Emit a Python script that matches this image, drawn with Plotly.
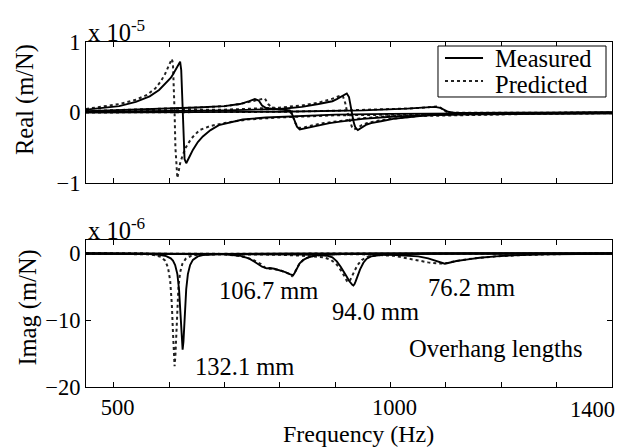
import plotly.graph_objects as go

# Frequency response of the tool tip for four overhang lengths.
# Real parts in units of 1e-5 m/N, imaginary parts in units of 1e-6 m/N.

overhangs = ["132.1 mm", "106.7 mm", "94.0 mm", "76.2 mm"]

# ---- 132.1 mm ----
f_m1 = [450, 480, 510, 540, 565, 582, 595, 603, 607, 611, 615, 618, 620, 622, 623.5, 624.5, 626, 628, 631, 634,
        638, 643, 652, 661, 675, 690, 710, 733, 775, 825, 900, 1000, 1150, 1400]
re_m1 = [0.04, 0.06, 0.09, 0.15, 0.23, 0.32, 0.42, 0.49, 0.54, 0.60, 0.65, 0.70, 0.72, 0.60, 0.30, 0.0, -0.40, -0.66,
         -0.72, -0.68, -0.61, -0.53, -0.42, -0.34, -0.25, -0.18, -0.14, -0.10, -0.07, -0.05, -0.03, -0.02, -0.01, 0.0]
im_m1 = [-0.02, -0.03, -0.03, -0.05, -0.09, -0.2, -0.4, -0.74, -1.09, -1.74, -3.1, -5.35, -7.95, -11.5, -13.85, -14.4,
         -13.2, -9.66, -5.35, -3.1, -1.74, -0.98, -0.46, -0.27, -0.17, -0.11, -0.08, -0.06, -0.04, -0.03, -0.02,
         -0.01, -0.01, 0.0]

f_p1 = [450, 480, 510, 540, 560, 575, 585, 593, 598, 602, 605, 607, 608.5, 610, 611.5, 613, 615, 617, 620, 624,
        630, 640, 655, 675, 700, 740, 800, 900, 1000, 1150, 1400]
re_p1 = [0.05, 0.08, 0.12, 0.18, 0.25, 0.34, 0.44, 0.55, 0.63, 0.71, 0.76, 0.70, 0.45, 0.0, -0.50, -0.80, -0.93,
         -0.85, -0.72, -0.62, -0.50, -0.37, -0.25, -0.19, -0.15, -0.10, -0.07, -0.04, -0.03, -0.02, -0.01]
im_p1 = [-0.02, -0.03, -0.05, -0.08, -0.14, -0.27, -0.53, -1.1, -2.09, -4.06, -7.58, -11.7, -15.2, -16.9, -15.2,
         -11.7, -7.58, -4.94, -2.85, -1.58, -0.82, -0.37, -0.17, -0.1, -0.07, -0.05, -0.03, -0.02, -0.01, -0.01, 0.0]

# ---- 106.7 mm ----
f_m2 = [450, 550, 650, 700, 728, 745, 755, 762, 768, 776, 782, 790, 800, 810, 818, 821, 824, 827, 831, 836,
        842, 850, 866, 890, 909, 950, 1000, 1100, 1250, 1400]
re_m2 = [0.02, 0.04, 0.07, 0.09, 0.12, 0.16, 0.19, 0.17, 0.10, 0.06, 0.055, 0.05, 0.04, 0.035, 0.03, 0.0, -0.06,
         -0.13, -0.2, -0.24, -0.23, -0.21, -0.18, -0.15, -0.13, -0.09, -0.06, -0.03, -0.02, -0.01]
im_m2 = [-0.02, -0.04, -0.08, -0.14, -0.35, -0.8, -1.3, -1.7, -2.0, -2.25, -2.2, -2.3, -2.5, -2.8, -3.1, -3.2,
         -3.3, -2.9, -2.2, -1.5, -1.0, -0.65, -0.3, -0.15, -0.1, -0.06, -0.03, -0.02, -0.01, 0.0]

f_p2 = [450, 550, 650, 700, 728, 750, 766, 773, 779, 786, 800, 815, 822, 828, 835, 845, 860, 880, 909, 950,
        1000, 1100, 1250, 1400]
re_p2 = [0.02, 0.04, 0.07, 0.09, 0.12, 0.16, 0.19, 0.20, 0.12, 0.07, 0.05, 0.03, -0.02, -0.15, -0.22, -0.21,
         -0.18, -0.15, -0.12, -0.08, -0.05, -0.03, -0.02, -0.01]
im_p2 = [-0.02, -0.04, -0.08, -0.15, -0.4, -0.9, -1.6, -2.1, -2.3, -2.3, -2.5, -3.0, -3.4, -2.7, -1.6, -0.8,
         -0.4, -0.2, -0.1, -0.06, -0.03, -0.02, -0.01, 0.0]

# ---- 94.0 mm ----
f_m3 = [450, 700, 800, 840, 870, 885, 895, 903, 910, 915, 918, 921, 925, 928, 931, 933, 935, 937, 941, 945,
        951, 957, 965, 975, 985, 1005, 1040, 1066, 1150, 1250, 1400]
re_m3 = [0.01, 0.03, 0.05, 0.08, 0.12, 0.14, 0.16, 0.19, 0.22, 0.24, 0.255, 0.27, 0.22, 0.08, -0.05, -0.12, -0.18,
         -0.22, -0.25, -0.23, -0.2, -0.17, -0.15, -0.13, -0.12, -0.09, -0.06, -0.04, -0.02, -0.01, 0.0]
im_m3 = [-0.02, -0.08, -0.12, -0.18, -0.25, -0.35, -0.6, -1.2, -2.0, -2.6, -3.0, -3.5, -4.1, -4.5, -4.7, -4.8,
         -4.6, -4.2, -3.2, -2.4, -1.4, -0.8, -0.45, -0.3, -0.2, -0.15, -0.08, -0.06, -0.03, -0.02, -0.01]

f_p3 = [450, 700, 800, 840, 870, 880, 893, 903, 910, 914, 918, 921, 924, 927, 930, 934, 940, 948, 958, 975,
        1000, 1050, 1100, 1250, 1400]
re_p3 = [0.02, 0.04, 0.07, 0.10, 0.14, 0.16, 0.19, 0.22, 0.24, 0.23, 0.14, 0.03, -0.06, -0.15, -0.2, -0.24,
         -0.22, -0.18, -0.15, -0.12, -0.09, -0.05, -0.04, -0.02, -0.01]
im_p3 = [-0.02, -0.08, -0.2, -0.35, -0.5, -0.6, -1.0, -1.7, -2.5, -3.0, -3.6, -4.1, -4.3, -4.0, -3.5, -2.7,
         -1.8, -1.0, -0.55, -0.3, -0.15, -0.08, -0.06, -0.03, -0.01]

# ---- 76.2 mm ----
f_m4 = [450, 800, 950, 1000, 1030, 1050, 1068, 1080, 1090, 1098, 1104, 1110, 1119, 1140, 1161, 1190, 1221,
        1281, 1340, 1400]
re_m4 = [0.0, 0.01, 0.03, 0.04, 0.055, 0.065, 0.075, 0.08, 0.065, 0.03, 0.01, 0.0, -0.005, -0.005, -0.005,
         -0.005, -0.004, -0.003, -0.002, 0.0]
im_m4 = [-0.01, -0.05, -0.12, -0.2, -0.3, -0.45, -0.75, -1.05, -1.35, -1.55, -1.45, -1.3, -1.15, -0.9, -0.65,
         -0.45, -0.3, -0.15, -0.08, -0.05]

f_p4 = [450, 800, 900, 950, 1005, 1017, 1035, 1053, 1068, 1083, 1090, 1096, 1104, 1125, 1150, 1190, 1240,
        1300, 1400]
re_p4 = [0.0, 0.01, 0.025, 0.035, 0.045, 0.05, 0.058, 0.066, 0.075, 0.085, 0.07, 0.03, 0.0, -0.005, -0.005,
         -0.004, -0.003, -0.002, 0.0]
im_p4 = [-0.01, -0.06, -0.1, -0.15, -0.35, -0.55, -0.8, -1.1, -1.35, -1.5, -1.52, -1.5, -1.4, -1.05, -0.75,
         -0.45, -0.25, -0.12, -0.05]

measured = [(f_m1, re_m1, im_m1), (f_m2, re_m2, im_m2), (f_m3, re_m3, im_m3), (f_m4, re_m4, im_m4)]
predicted = [(f_p1, re_p1, im_p1), (f_p2, re_p2, im_p2), (f_p3, re_p3, im_p3), (f_p4, re_p4, im_p4)]

# Overhang label positions (Hz, 1e-6 m/N)
label_f = [737, 779, 972, 1146]
label_v = [-16.9, -5.6, -8.7, -5.1]

x_ticks = [500, 600, 700, 800, 900, 1000, 1100, 1200, 1300, 1400]
x_ticktext = ["500", "", "", "", "", "1000", "", "", "", ""]

FONT = "Liberation Serif"
TXT = dict(family=FONT, size=24.5, color="black")
TICK = dict(family=FONT, size=22.5, color="black")
solid = dict(color="black", width=1.9)
dotted = dict(color="#222222", width=2, dash="dot")

fig = go.Figure()
for f, re, im in predicted:
    fig.add_trace(go.Scatter(x=f, y=re, mode="lines", line=dotted, showlegend=False, xaxis="x", yaxis="y"))
    fig.add_trace(go.Scatter(x=f, y=im, mode="lines", line=dotted, showlegend=False, xaxis="x2", yaxis="y2"))
for f, re, im in measured:
    fig.add_trace(go.Scatter(x=f, y=re, mode="lines", line=solid, showlegend=False, xaxis="x", yaxis="y"))
    fig.add_trace(go.Scatter(x=f, y=im, mode="lines", line=solid, showlegend=False, xaxis="x2", yaxis="y2"))

axis_style = dict(showline=True, linecolor="black", linewidth=1, mirror="ticks", ticks="inside",
                  ticklen=5, tickcolor="black", tickwidth=1, showgrid=False, zeroline=False,
                  tickfont=TICK)

top_dom = [0.5913, 1.0]
bot_dom = [0.0, 0.4261]


def ann(text, x, y, xref="paper", yref="paper", xanchor="center", yanchor="middle", font=TXT, **kw):
    return dict(text=text, x=x, y=y, xref=xref, yref=yref, xanchor=xanchor, yanchor=yanchor,
                showarrow=False, font=font, **kw)


annotations = [
    ann("x 10<sup>-5</sup>", 0, 1.0, xanchor="left", yanchor="bottom", yshift=-6),
    ann("x 10<sup>-6</sup>", 0, bot_dom[1], xanchor="left", yanchor="bottom", yshift=-6),
    ann("Frequency (Hz)", 0.519, -0.1362, font=dict(family=FONT, size=24, color="black")),
    ann("Real (m/N)", -0.116, 0.8348, textangle=-90),
    ann("Imag (m/N)", -0.112, 0.2304, textangle=-90),
    ann("1400", 0.962, -0.0638, font=TICK),
    ann("Overhang lengths", 1190, -14.2, xref="x2", yref="y2"),
    # legend entries
    ann("Measured", 0.7738, 0.9536, xanchor="left"),
    ann("Predicted", 0.7738, 0.8754, xanchor="left"),
]
for name, fx, vy in zip(overhangs, label_f, label_v):
    annotations.append(ann(name, fx, vy, xref="x2", yref="y2"))

shapes = [
    # legend frame and line samples
    dict(type="rect", xref="paper", yref="paper", x0=0.6692, x1=0.9886, y0=0.8406, y1=0.9884,
         line=dict(color="black", width=1), fillcolor="white", layer="above"),
    dict(type="line", xref="paper", yref="paper", x0=0.6825, x1=0.7548, y0=0.9536, y1=0.9536,
         line=solid, layer="above"),
    dict(type="line", xref="paper", yref="paper", x0=0.6825, x1=0.7548, y0=0.8870, y1=0.8870,
         line=dotted, layer="above"),
]

fig.update_layout(
    width=629, height=448,
    margin=dict(l=86, r=17, t=42, b=61),
    paper_bgcolor="white", plot_bgcolor="white",
    font=TXT,
    xaxis=dict(domain=[0, 1], anchor="y", range=[450, 1400], tickvals=x_ticks, showticklabels=False,
               **axis_style),
    yaxis=dict(domain=top_dom, anchor="x", range=[-1, 1], tickvals=[-1, 0, 1], **axis_style),
    xaxis2=dict(domain=[0, 1], anchor="y2", range=[450, 1400], tickvals=x_ticks, ticktext=x_ticktext,
                ticklabelshift=4, **axis_style),
    yaxis2=dict(domain=bot_dom, anchor="x2", range=[-20, 2], tickvals=[-20, -10, 0], **axis_style),
    annotations=annotations,
    shapes=shapes,
    showlegend=False,
)

fig.write_html("out.html")
